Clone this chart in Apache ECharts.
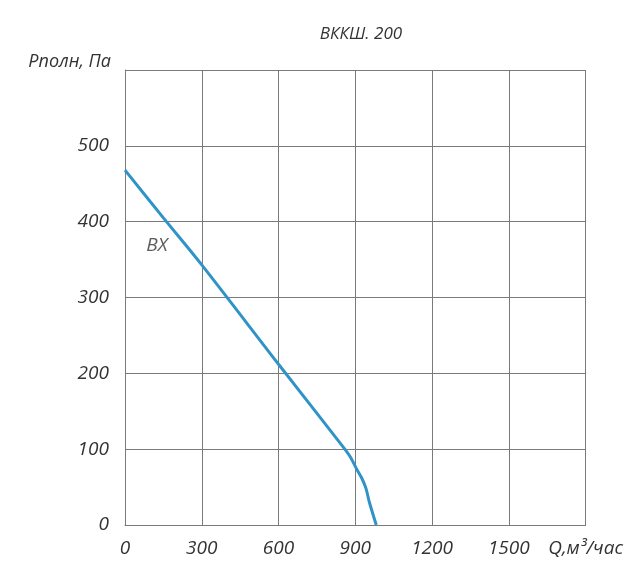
<!DOCTYPE html>
<html>
<head>
<meta charset="utf-8">
<script src="https://cdn.jsdelivr.net/npm/echarts@6/dist/echarts.min.js"></script>
<style>
  html, body { margin: 0; padding: 0; background: #fff; }
  #chart { width: 626px; height: 583px; }
</style>
</head>
<body>
<div id="chart"></div>
<script>
// flow Q (m3/h) and total pressure (Pa)
const flowValues = [0, 150, 300, 600, 850, 880, 905, 925, 942, 955, 982];
const pressureValues = [468, 405, 343, 212, 104, 90, 74, 62, 48, 30, 0];
const xTicks = [0, 300, 600, 900, 1200, 1500, 1800];
const yTicks = [0, 100, 200, 300, 400, 500, 600];
const curveLabel = { name: "ВХ", q: 125, p: 369 };

const chart = echarts.init(document.getElementById("chart"));
const font = "'Open Sans', sans-serif";
const textColor = "#333333";
const gridColor = "#7a7a7a";

const option = {
  animation: false,
  title: {
    text: "ВККШ. 200",
    left: 356,
    top: 21,
    textAlign: "center",
    textStyle: { fontFamily: font, fontStyle: "italic", fontWeight: "normal", fontSize: 17, color: textColor },
  },
  grid: { left: 125, right: 38, top: 70, bottom: 58 },
  xAxis: {
    type: "value",
    min: xTicks[0],
    max: xTicks[xTicks.length - 1],
    interval: 300,
    axisLine: { lineStyle: { color: gridColor, width: 1 } },
    axisTick: { show: false },
    splitLine: { lineStyle: { color: gridColor, width: 1 } },
    axisLabel: {
      margin: 14,
      color: textColor,
      fontFamily: font,
      fontStyle: "italic",
      fontSize: 19,
      formatter: (v) => (v === 1800 ? "Q,м³/час" : String(v)),
    },
  },
  yAxis: {
    type: "value",
    min: yTicks[0],
    max: yTicks[yTicks.length - 1],
    interval: 100,
    name: "Рполн, Па",
    nameLocation: "end",
    nameGap: 8,
    nameTextStyle: {
      align: "right",
      verticalAlign: "middle",
      padding: [0, 14, 0, 0],
      color: textColor,
      fontFamily: font,
      fontStyle: "italic",
      fontSize: 18,
    },
    axisLine: { show: true, lineStyle: { color: gridColor, width: 1 } },
    axisTick: { show: false },
    splitLine: { lineStyle: { color: gridColor, width: 1 } },
    axisLabel: {
      margin: 16,
      color: textColor,
      fontFamily: font,
      fontStyle: "italic",
      fontSize: 19,
      formatter: (v) => (v === 600 ? "" : String(v)),
    },
  },
  series: [
    {
      type: "line",
      data: flowValues.map((q, i) => [q, pressureValues[i]]),
      smooth: 0.3,
      symbol: "none",
      lineStyle: { color: "#2f93c8", width: 3 },
    },
    {
      type: "scatter",
      data: [[curveLabel.q, curveLabel.p]],
      symbolSize: 1,
      itemStyle: { color: "rgba(0,0,0,0)" },
      silent: true,
      label: {
        show: true,
        position: "inside",
        formatter: curveLabel.name,
        color: textColor,
        fontFamily: font,
        fontStyle: "italic",
        fontSize: 19,
      },
    },
  ],
};

chart.setOption(option);
</script>
</body>
</html>
